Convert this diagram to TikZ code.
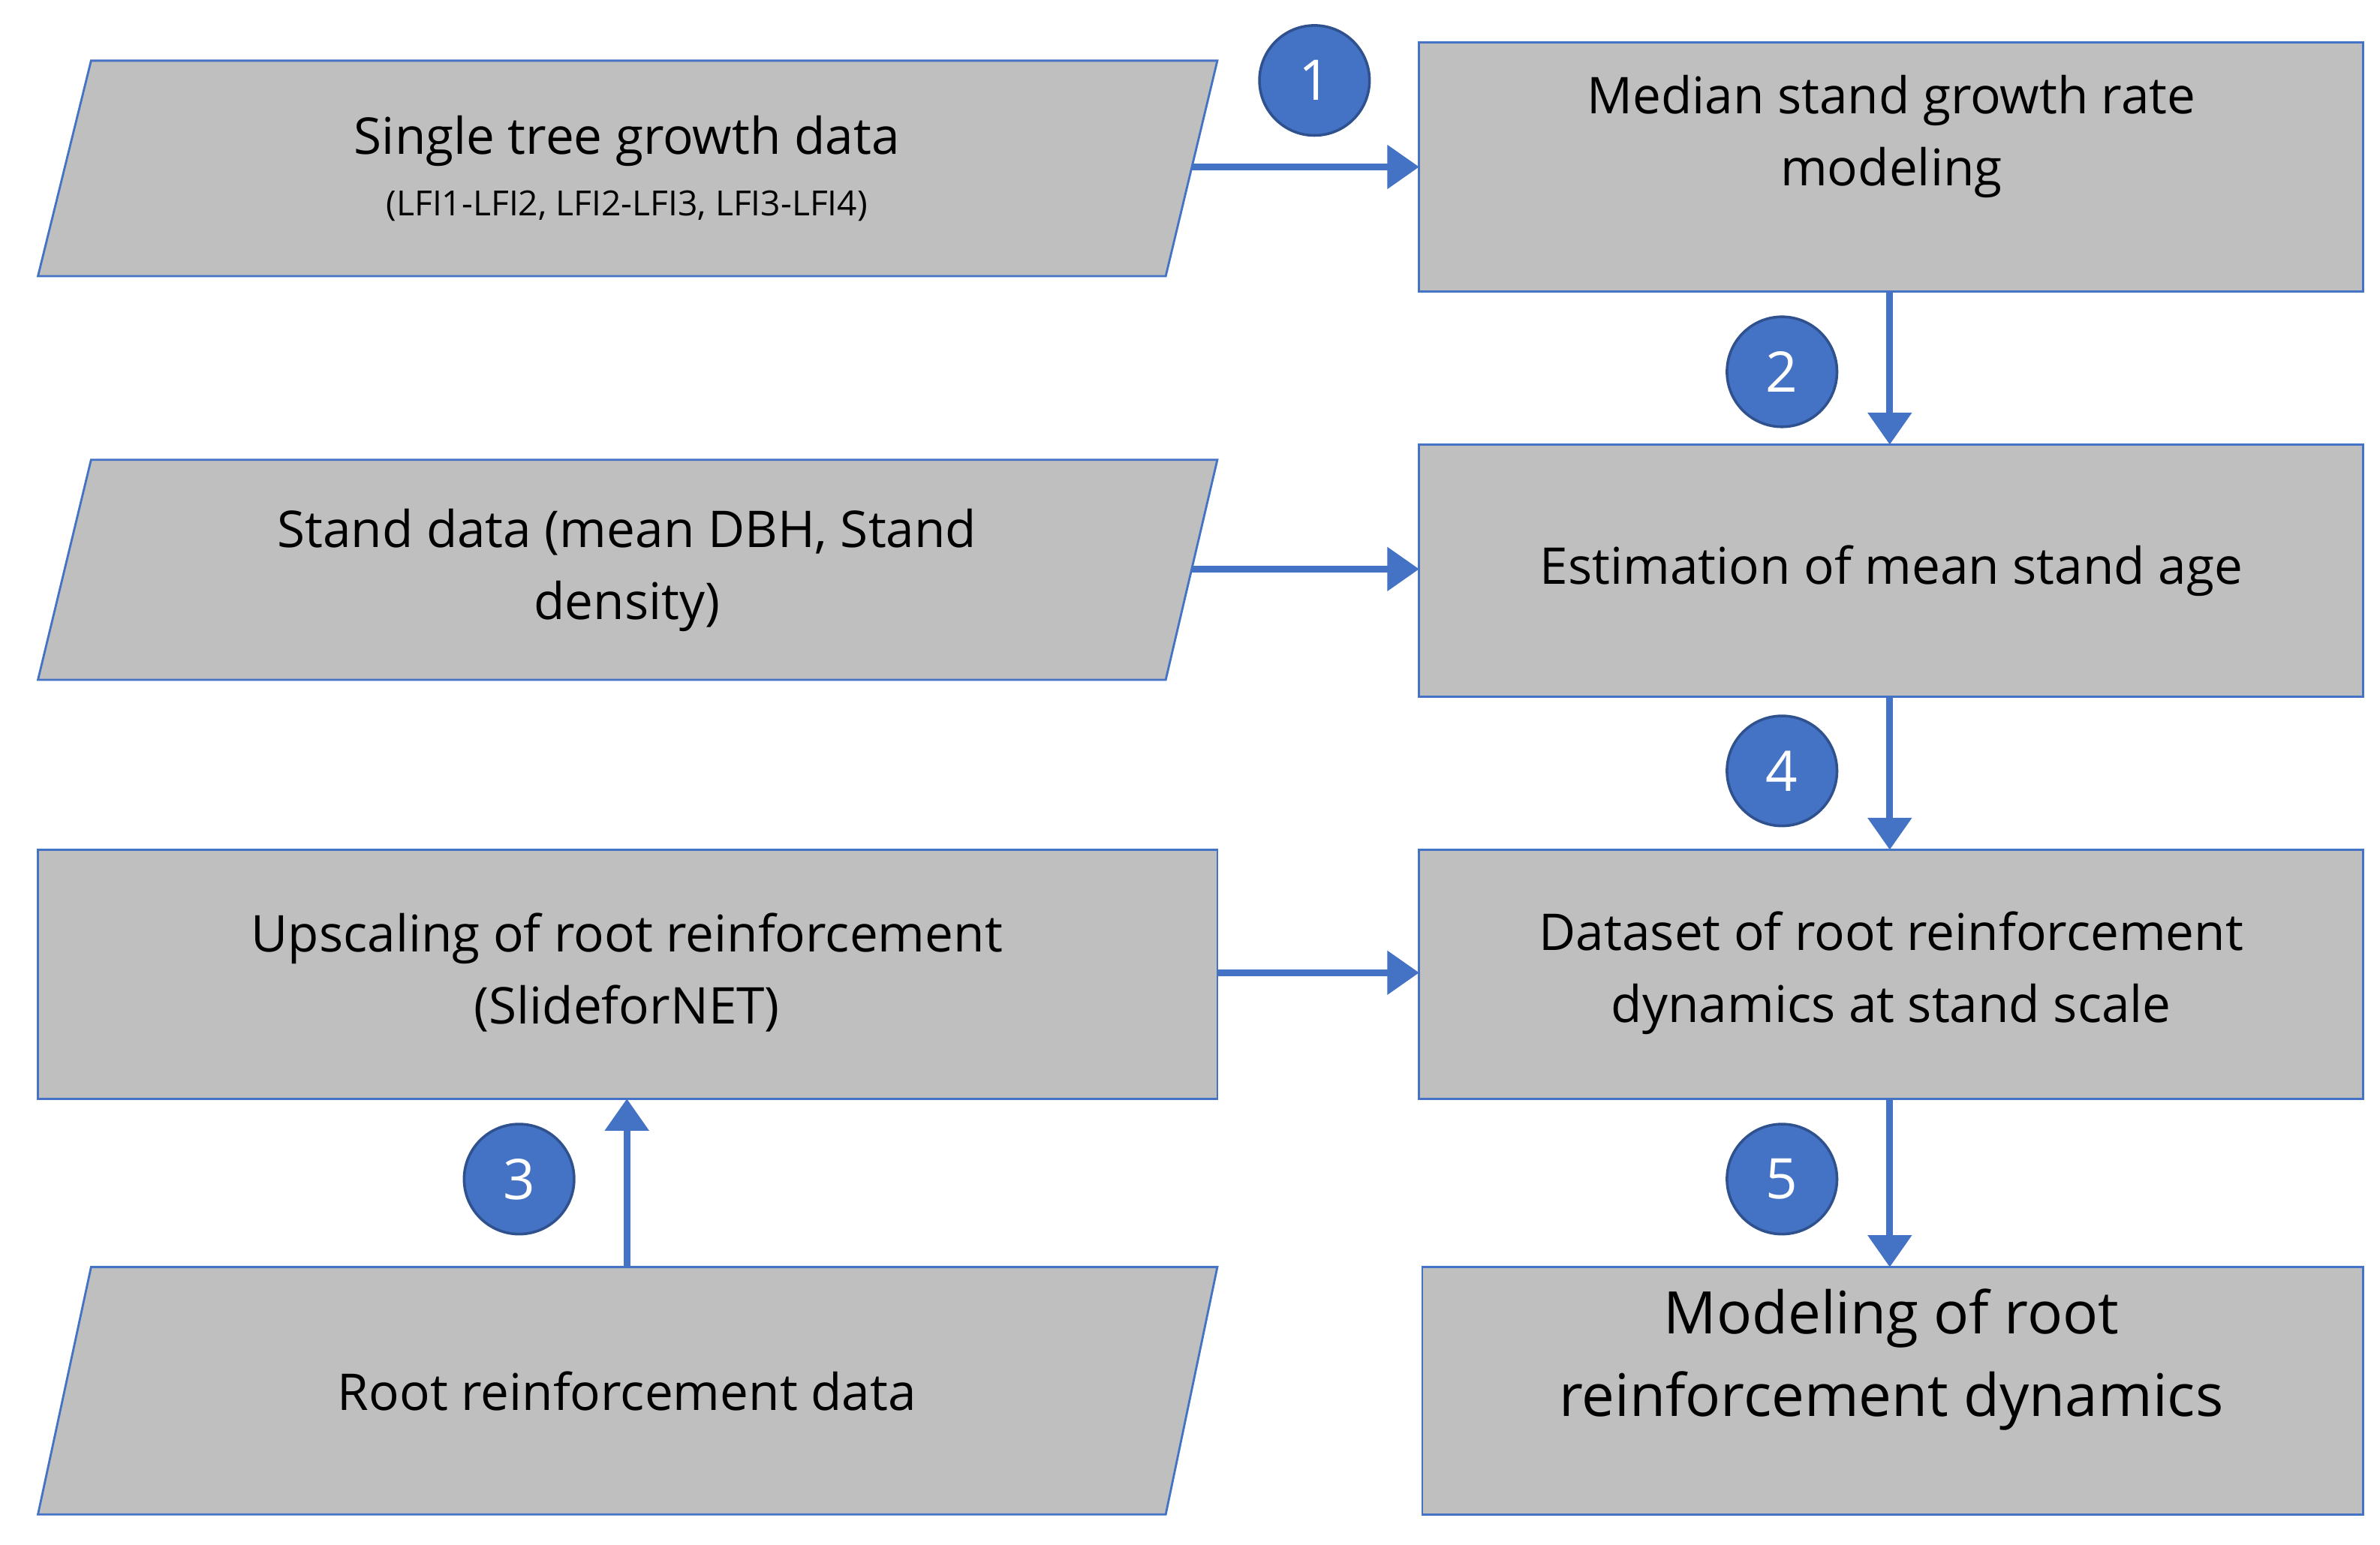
\documentclass[tikz,border=0pt]{standalone}
\usepackage{fontspec}
\setmainfont{Open Sans}
\usetikzlibrary{arrows.meta}
\definecolor{bx}{HTML}{BFBFBF}
\definecolor{bl}{HTML}{4472C4}
\definecolor{dk}{HTML}{2F528F}
\begin{document}
\begin{tikzpicture}[x=0.02cm,y=-0.02cm,
  box/.style={draw=bl,line width=0.8pt,fill=bx},
  txt/.style={align=center,font=\fontsize{19}{27}\selectfont,text=black},
  num/.style={circle,fill=bl,draw=dk,line width=1pt,minimum size=1.45cm,inner sep=0pt,text=white,font=\fontsize{21}{21}\selectfont},
  arr/.style={draw=bl,line width=2.6pt,-{Triangle[length=12pt,width=16pt]}}]
\useasboundingbox (0,0) rectangle (1568,1018);
% parallelograms
\draw[box] (60,40) -- (802,40) -- (768,182) -- (25,182) -- cycle;
\node[txt] (p1) at (413,111) {Single tree growth data\\[-4pt]{\fontsize{13}{16}\selectfont (LFI1-LFI2, LFI2-LFI3, LFI3-LFI4)}};
\coordinate (p1r) at (785,110);
\draw[box] (60,303) -- (802,303) -- (768,448) -- (25,448) -- cycle;
\node[txt] (p2) at (413,376) {Stand data (mean DBH, Stand\\density)};
\coordinate (p2r) at (785,375);
\draw[box] (60,835) -- (802,835) -- (768,998) -- (25,998) -- cycle;
\node[txt] (p3) at (413,917) {Root reinforcement data};
\coordinate (p3t) at (413,835);
% rectangles
\draw[box] (935,28) rectangle (1557,192);
\node[txt] (A) at (1246,90) {Median stand growth rate\\modeling};
\coordinate (At) at (935,110); \coordinate (Ab) at (1245,192);
\draw[box] (935,293) rectangle (1557,459);
\node[txt] (B) at (1246,376) {Estimation of mean stand age};
\coordinate (Bt) at (1245,293); \coordinate (Bl) at (935,375); \coordinate (Bb) at (1245,459);
\draw[box] (935,560) rectangle (1557,724);
\node[txt] (C) at (1246,641) {Dataset of root reinforcement\\dynamics at stand scale};
\coordinate (Ct) at (1245,560); \coordinate (Cl) at (935,641); \coordinate (Cb) at (1245,724);
\draw[box] (25,560) rectangle (802,724);
\node[txt] (D) at (413,641) {Upscaling of root reinforcement\\(SlideforNET)};
\coordinate (Dr) at (802,641); \coordinate (Db) at (413,724);
\draw[box] (937,835) rectangle (1557,998);
\node[txt,font=\fontsize{22}{31}\selectfont] (E) at (1246,896) {Modeling of root\\reinforcement dynamics};
\coordinate (Et) at (1245,835);
% arrows
\draw[arr] (p1r) -- (At);
\draw[arr] (Ab) -- (Bt);
\draw[arr] (p2r) -- (Bl);
\draw[arr] (Bb) -- (Ct);
\draw[arr] (Dr) -- (Cl);
\draw[arr] (p3t) -- (Db);
\draw[arr] (Cb) -- (Et);
% numbers
\node[num] (n1) at (866,53) {1};
\node[num] (n2) at (1174,245) {2};
\node[num] (n3) at (342,777) {3};
\node[num] (n4) at (1174,508) {4};
\node[num] (n5) at (1174,777) {5};
\end{tikzpicture}
\end{document}
